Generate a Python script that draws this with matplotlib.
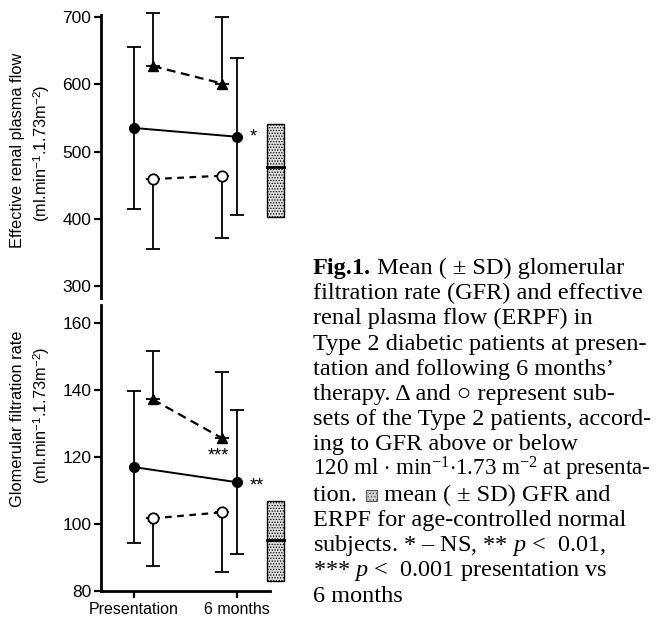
import numpy as np
import matplotlib
matplotlib.use("Agg")
import matplotlib.pyplot as plt
from matplotlib.patches import Rectangle

plt.rcParams["font.family"] = ["Liberation Sans", "DejaVu Sans"]
plt.rcParams["mathtext.fontset"] = "custom"
plt.rcParams["mathtext.rm"] = "Liberation Serif"
plt.rcParams["mathtext.it"] = "Liberation Serif:italic"
plt.rcParams["mathtext.sf"] = "Liberation Sans"
plt.rcParams["hatch.color"] = "#7a7a7a"
plt.rcParams["hatch.linewidth"] = 0.6

# ---- data ----
time_labels = ["Presentation", "6 months"]

# ERPF (ml.min-1.1.73m-2)
erpf_all_mean = [535, 522]
erpf_all_sd = [121, 117]
erpf_hi_mean = [627, 601]      # triangles, GFR > 120 at presentation
erpf_hi_sd = [79, 99]
erpf_lo_mean = [459, 464]      # open circles, GFR < 120 at presentation
erpf_lo_sd = [104, 92]
erpf_normal = [403, 477, 541]  # low, mean, high of normal subjects box

# GFR (ml.min-1.1.73m-2)
gfr_all_mean = [117, 112.5]
gfr_all_sd = [22.8, 21.5]
gfr_hi_mean = [137.2, 125.6]
gfr_hi_sd = [14.5, 19.9]
gfr_lo_mean = [101.7, 103.5]
gfr_lo_sd = [14.2, 17.7]
gfr_normal = [83, 95.2, 107]

erpf_ticks = [300, 400, 500, 600, 700]
gfr_ticks = [80, 100, 120, 140, 160]

caption_lines = [
    " Mean ( \u00b1 SD) glomerular",
    "filtration rate (GFR) and effective",
    "renal plasma flow (ERPF) in",
    "Type 2 diabetic patients at presen-",
    "tation and following 6 months\u2019",
    "therapy. \u0394 and \u25cb represent sub-",
    "sets of the Type 2 patients, accord-",
    "ing to GFR above or below",
    r"120 ml $\cdot$ min$^{-1}$$\cdot$1.73 m$^{-2}$ at presenta-",
    " mean ( \u00b1 SD) GFR and",
    "ERPF for age-controlled normal",
    "subjects. * \u2013 NS, ** $p$ <  0.01,",
    "*** $p$ <  0.001 presentation vs",
    "6 months",
]

W, H = 659, 618
fig = plt.figure(figsize=(W / 100, H / 100), dpi=100)

x_main = np.array([0.0, 1.0])
x_sub = np.array([0.185, 0.86])
x_box = (1.30, 1.465)
XLIM = (-0.32, 1.55)


def draw_panel(ax, all_m, all_s, hi_m, hi_s, lo_m, lo_s, normal):
    err_kw = dict(fmt="none", ecolor="black", elinewidth=1.3, capsize=5, capthick=1.3)
    ax.errorbar(x_main, all_m, yerr=all_s, zorder=2, **err_kw)
    ax.plot(x_main, all_m, "-o", color="black", lw=1.4, ms=7, zorder=3)

    ax.errorbar(x_sub, hi_m, yerr=[np.zeros(2), hi_s], zorder=2, **err_kw)
    ax.plot(x_sub, hi_m, color="black", lw=1.6, dashes=(4, 2.5), marker="^",
            ms=7, zorder=3)

    ax.errorbar(x_sub, lo_m, yerr=[lo_s, np.zeros(2)], zorder=2, **err_kw)
    ax.plot(x_sub, lo_m, color="black", lw=1.6, dashes=(3, 2.5), marker="o",
            ms=7.5, mfc="white", mec="black", mew=1.3, zorder=3)

    lo, mid, hi = normal
    ax.add_patch(Rectangle((x_box[0], lo), x_box[1] - x_box[0], hi - lo,
                           facecolor="#dedede", edgecolor="black", lw=1.0,
                           hatch="......", zorder=2, clip_on=False))
    ax.plot(x_box, [mid, mid], color="black", lw=2, zorder=3, clip_on=False)

    ax.set_xlim(*XLIM)
    for s in ["top", "right"]:
        ax.spines[s].set_visible(False)
    ax.spines["left"].set_linewidth(2)
    ax.spines["bottom"].set_linewidth(2)
    ax.tick_params(axis="y", direction="out", length=5, width=1.6,
                   labelsize=12.5, pad=2)
    ax.set_facecolor("none")


# top panel: ERPF
ax1 = fig.add_axes([101 / W, 1 - 298 / H, 192 / W, 293 / H])
draw_panel(ax1, erpf_all_mean, erpf_all_sd, erpf_hi_mean, erpf_hi_sd,
           erpf_lo_mean, erpf_lo_sd, erpf_normal)
ax1.set_ylim(282.2, 717.8)
ax1.set_yticks(erpf_ticks)
ax1.spines["left"].set_bounds(282.2, 703)
ax1.spines["bottom"].set_visible(False)
ax1.set_xticks([])
ax1.text(1.16, 522, "*", fontsize=13, ha="center", va="center")

# bottom panel: GFR
ax2 = fig.add_axes([101 / W, 1 - 591 / H, 192 / W, 286 / H])
draw_panel(ax2, gfr_all_mean, gfr_all_sd, gfr_hi_mean, gfr_hi_sd,
           gfr_lo_mean, gfr_lo_sd, gfr_normal)
ax2.set_ylim(80, 165.4)
ax2.set_yticks(gfr_ticks)
ax2.spines["bottom"].set_bounds(XLIM[0], 1.327)
ax2.set_xticks(x_main)
ax2.set_xticklabels(time_labels)
ax2.tick_params(axis="x", direction="out", length=5, width=1.6,
                labelsize=11.5, pad=3)
ax2.text(0.82, 120.2, "***", fontsize=13, ha="center", va="center")
ax2.text(1.20, 111.3, "**", fontsize=13, ha="center", va="center")

# y labels, two lines each
lab_kw = dict(rotation=90, ha="center", va="center", fontsize=11.8)
fig.text(18 / W, 1 - 150 / H, "Effective renal plasma flow", **lab_kw)
fig.text(42 / W, 1 - 153 / H,
         r"(ml.min$^{\mathsf{-1}}$.1.73m$^{\mathsf{-2}}$)", **lab_kw)
fig.text(18 / W, 1 - 419 / H, "Glomerular filtration rate", **lab_kw)
fig.text(42 / W, 1 - 415 / H,
         r"(ml.min$^{\mathsf{-1}}$.1.73m$^{\mathsf{-2}}$)", **lab_kw)

# caption
renderer = fig.canvas.get_renderer()
cap_kw = dict(family=["Liberation Serif", "DejaVu Serif"], ha="left", va="baseline")
x0 = 313
for i, line in enumerate(caption_lines):
    yb = 1 - (274 + 25.2 * i) / H
    fs = 16.6 if i == 8 else 17.5
    if i == 0:
        t = fig.text(x0 / W, yb, "Fig.1.", fontweight="bold", fontsize=fs, **cap_kw)
        x_end = t.get_window_extent(renderer).x1
        fig.text(x_end / W, yb, line, fontsize=fs, **cap_kw)
    elif i == 9:
        t = fig.text(x0 / W, yb, "tion. ", fontsize=fs, **cap_kw)
        x_end = t.get_window_extent(renderer).x1 + 3
        sq = 11
        fig.patches.append(Rectangle((x_end / W, yb), sq / W, sq / H,
                                     transform=fig.transFigure, facecolor="#cfcfcf",
                                     edgecolor="#555555", lw=0.8, hatch="....."))
        fig.text((x_end + sq + 1) / W, yb, line, fontsize=fs, **cap_kw)
    else:
        fig.text(x0 / W, yb, line, fontsize=fs, **cap_kw)

fig.savefig("out.png", dpi=100)
